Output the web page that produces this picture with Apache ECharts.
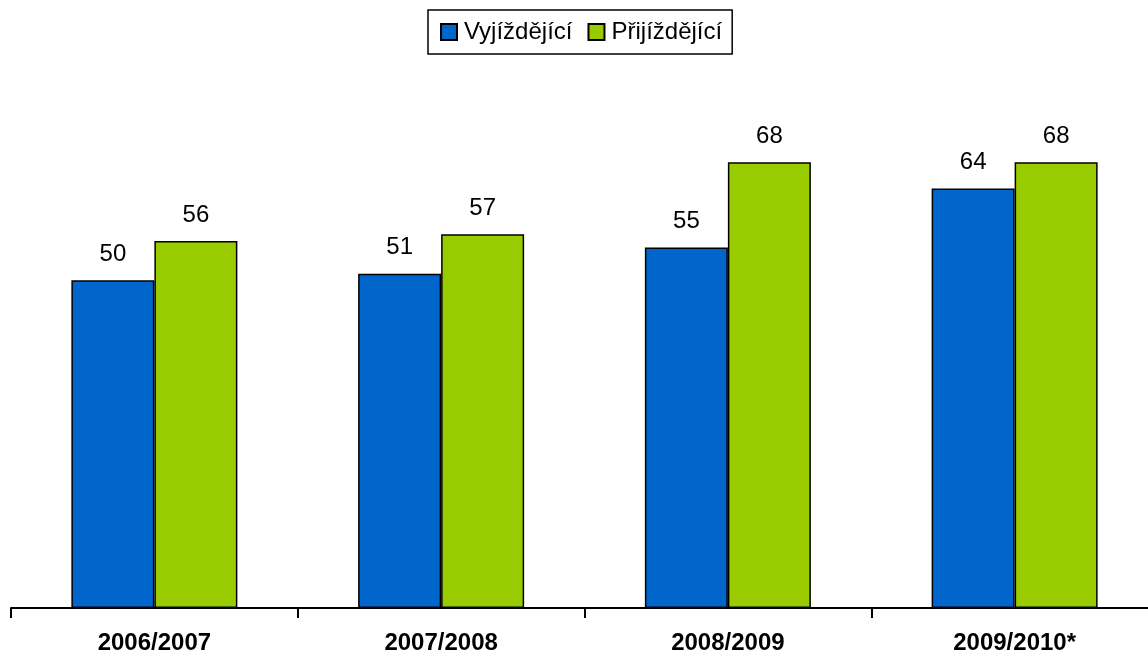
<!DOCTYPE html>
<html>
<head>
<meta charset="utf-8">
<script src="https://cdn.jsdelivr.net/npm/echarts@6/dist/echarts.min.js"></script>
<style>html,body{margin:0;padding:0;background:#fff}#c{width:1148px;height:659px}</style>
</head>
<body>
<div id="c"></div>
<script>
const categories = ['2006/2007', '2007/2008', '2008/2009', '2009/2010*'];
const seriesNames = ['Vyjíždějící', 'Přijíždějící'];
const outgoing = [50, 51, 55, 64];
const incoming = [56, 57, 68, 68];

const chart = echarts.init(document.getElementById('c'), null, {renderer: 'canvas'});
const font = "'Liberation Sans', Arial, sans-serif";
const labelStyle = {show: true, position: 'top', distance: 14, color: '#000', fontSize: 24, fontFamily: font};
chart.setOption({
  animation: false,
  backgroundColor: '#fff',
  legend: {
    data: seriesNames,
    left: 428, top: 10,
    padding: [10, 10, 10, 12],
    borderColor: '#000', borderWidth: 1.5,
    itemWidth: 16, itemHeight: 16, itemGap: 15,
    icon: 'rect',
    textStyle: {fontSize: 24, fontFamily: font, color: '#000', padding: [0, 0, 0, 2]}
  },
  grid: {left: 11, width: 1147, top: 18, bottom: 51, containLabel: false, outerBoundsMode: 'none'},
  xAxis: {
    type: 'category', data: categories,
    axisLine: {lineStyle: {color: '#000', width: 2}},
    axisTick: {show: true, length: 10, lineStyle: {color: '#000', width: 2}},
    axisLabel: {fontSize: 24, fontWeight: 'bold', fontFamily: font, color: '#000', margin: 23}
  },
  yAxis: {type: 'value', min: 0, max: 90, show: false, splitLine: {show: false}},
  series: [
    {name: seriesNames[0], type: 'bar', data: outgoing, barWidth: 83, barGap: '0%',
     itemStyle: {color: '#0066CC', borderColor: '#000', borderWidth: 1.5}, label: labelStyle},
    {name: seriesNames[1], type: 'bar', data: incoming, barWidth: 83, barGap: '0%',
     itemStyle: {color: '#99CC00', borderColor: '#000', borderWidth: 1.5}, label: labelStyle}
  ]
});
</script>
</body>
</html>
